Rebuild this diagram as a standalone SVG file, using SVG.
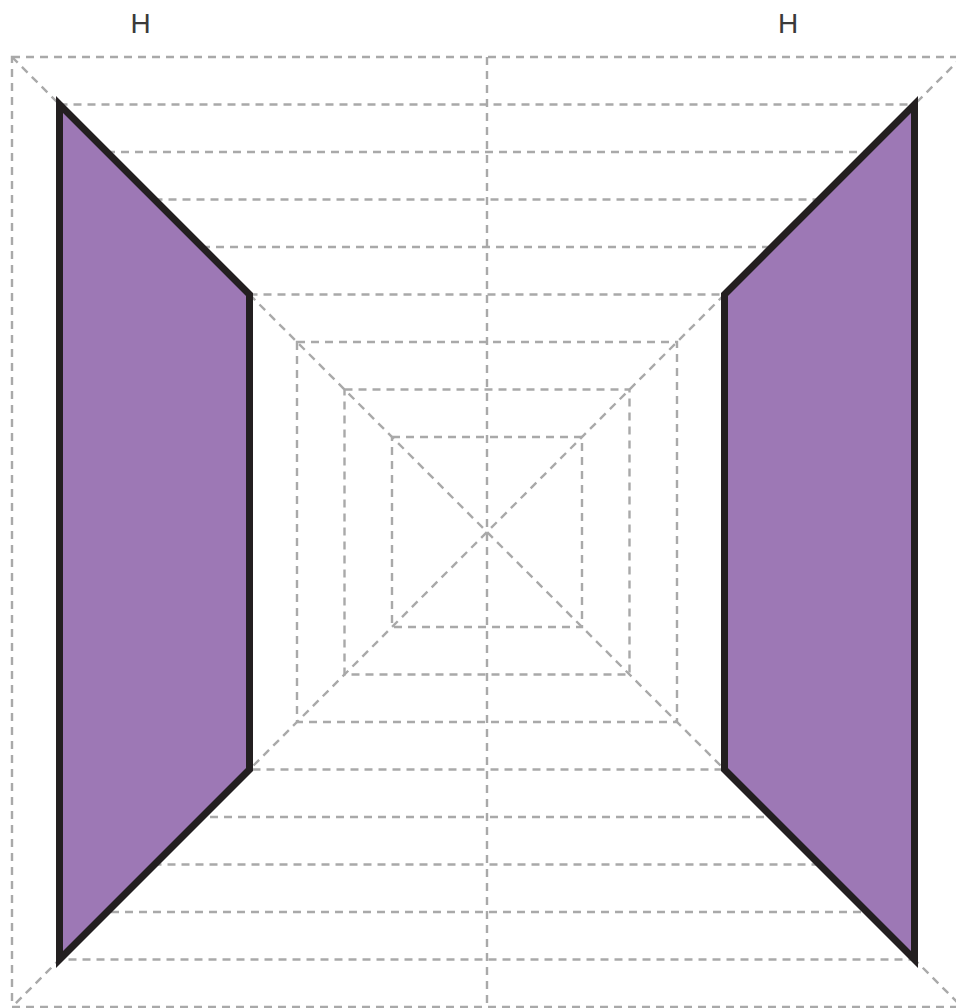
<svg xmlns="http://www.w3.org/2000/svg" width="956" height="1008" viewBox="0 0 956 1008">
<style>
.g{fill:none;stroke:#a9a9a9;stroke-width:2.4;stroke-dasharray:8 6}
.w{fill:#9d78b5;stroke:#231f20;stroke-width:7;stroke-linejoin:miter}
.t{font-family:"Liberation Sans",Arial,sans-serif;font-size:28px;fill:#3a3a3a;text-anchor:middle}
</style>
<rect width="956" height="1008" fill="#ffffff"/>
<g id="grid">
<rect class="g" x="392" y="437" width="190" height="190"/>
<rect class="g" x="344.5" y="389.5" width="285" height="285"/>
<rect class="g" x="297" y="342" width="380" height="380"/>
<rect class="g" x="249.5" y="294.5" width="475" height="475"/>
<rect class="g" x="202" y="247" width="570" height="570"/>
<rect class="g" x="154.5" y="199.5" width="665" height="665"/>
<rect class="g" x="107" y="152" width="760" height="760"/>
<rect class="g" x="59.5" y="104.5" width="855" height="855"/>
<rect class="g" x="12" y="57" width="950" height="950"/>
<line class="g" x1="487" y1="57" x2="487" y2="1007"/>
<line class="g" x1="12" y1="57" x2="962" y2="1007"/>
<line class="g" x1="962" y1="57" x2="12" y2="1007"/>
</g>
<g id="left-wall">
<polygon class="w" points="59.5,104.5 249.5,294.5 249.5,769.5 59.5,959.5"/>
</g>
<g id="right-wall">
<polygon class="w" points="914.5,104.5 724.5,294.5 724.5,769.5 914.5,959.5"/>
</g>
<g id="labels">
<text class="t" x="140.5" y="33">H</text>
<text class="t" x="788" y="33">H</text>
</g>
</svg>
